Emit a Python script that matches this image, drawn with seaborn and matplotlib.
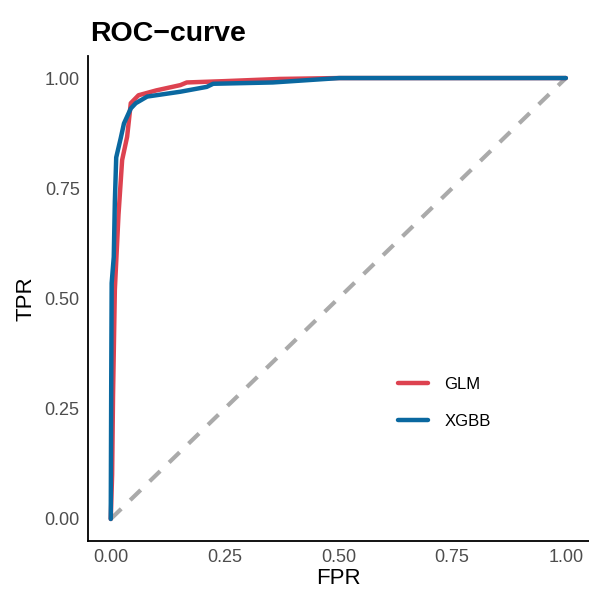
import matplotlib
matplotlib.use("Agg")
import matplotlib.pyplot as plt
import seaborn as sns
import pandas as pd

# ROC points
glm_fpr = [0.0, 0.003, 0.005, 0.009, 0.017, 0.025, 0.036, 0.044, 0.061, 0.10, 0.153, 0.167, 0.25, 0.371, 0.50, 1.0]
glm_tpr = [0.0, 0.10, 0.28, 0.52, 0.69, 0.814, 0.867, 0.943, 0.961, 0.972, 0.984, 0.990, 0.993, 0.998, 1.0, 1.0]
xgb_fpr = [0.0, 0.001, 0.002, 0.0066, 0.009, 0.012, 0.022, 0.029, 0.044, 0.055, 0.08, 0.153, 0.211, 0.225, 0.356, 0.502, 1.0]
xgb_tpr = [0.0, 0.30, 0.535, 0.594, 0.72, 0.82, 0.864, 0.897, 0.931, 0.943, 0.958, 0.969, 0.98, 0.987, 0.99, 1.0, 1.0]
models = ["GLM", "XGBB"]
colors = ["#DD4250", "#0A68A0"]

df = pd.concat([
    pd.DataFrame({"FPR": glm_fpr, "TPR": glm_tpr, "model": models[0]}),
    pd.DataFrame({"FPR": xgb_fpr, "TPR": xgb_tpr, "model": models[1]}),
])

sns.set_style("white")
plt.rcParams["font.family"] = ["Liberation Sans", "DejaVu Sans"]
plt.rcParams["text.color"] = "black"
plt.rcParams["axes.labelcolor"] = "black"

fig = plt.figure(figsize=(5.89, 5.92), dpi=100)
ax = fig.add_axes([0.1494, 0.0861, 0.85, 0.8193])

ax.plot([0, 1], [0, 1], color="#AAAAAA", lw=3, linestyle=(0, (3.5, 3)), zorder=1)
sns.lineplot(data=df, x="FPR", y="TPR", hue="model", palette=colors,
             sort=False, estimator=None, lw=3.2, ax=ax, zorder=2)

ax.set_xlim(-0.05, 1.05)
ax.set_ylim(-0.05, 1.05)
ticks = [0, 0.25, 0.5, 0.75, 1.0]
ax.set_xticks(ticks)
ax.set_yticks(ticks)
ax.set_xticklabels(["0.00", "0.25", "0.50", "0.75", "1.00"])
ax.set_yticklabels(["0.00", "0.25", "0.50", "0.75", "1.00"])
ax.tick_params(axis="both", length=0, labelsize=13, colors="#4D4D4D", pad=6)
ax.set_xlabel("FPR", fontsize=16, labelpad=1)
ax.set_ylabel("TPR", fontsize=16, labelpad=6)
ax.set_title("ROC\u2212curve", fontsize=20.5, fontweight="bold", loc="left",
             x=0.005, pad=11, color="black")

for s in ["top", "right"]:
    ax.spines[s].set_visible(False)
for s in ["left", "bottom"]:
    ax.spines[s].set_color("black")
    ax.spines[s].set_linewidth(1.3)

leg = ax.legend(title=None, frameon=False, loc="center left",
                bbox_to_anchor=(0.59, 0.285), fontsize=12, handlelength=1.75,
                labelspacing=1.3, handletextpad=1.0)
for line in leg.get_lines():
    line.set_linewidth(3.2)

fig.savefig("out.png", dpi=100)
